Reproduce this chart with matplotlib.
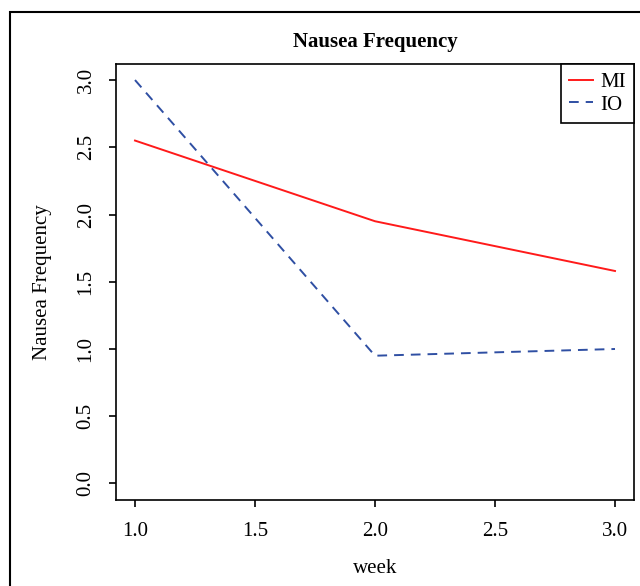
import matplotlib
matplotlib.use("Agg")
import matplotlib.pyplot as plt
from matplotlib.patches import Rectangle

plt.rcParams['font.family'] = ['Liberation Serif', 'DejaVu Serif']

week = [1, 2, 3]
mi = [2.55, 1.95, 1.58]
io = [3.0, 0.95, 1.0]
xticks = [1.0, 1.5, 2.0, 2.5, 3.0]
yticks = [0.0, 0.5, 1.0, 1.5, 2.0, 2.5, 3.0]

fig = plt.figure(figsize=(6.4, 5.86), dpi=100)
ax = fig.add_axes([115.8 / 640, 1 - 499.6 / 586, 518.4 / 640, 435.7 / 586])

ax.plot(week, mi, color='#ff1a1a', lw=1.4, label='MI')
ax.plot(week, io, color='#2f4fa3', lw=1.4, dashes=(5, 3.6), label='IO')

ax.set_xlim(0.92, 3.08)
ax.set_ylim(-0.12, 3.12)
ax.set_xticks(xticks)
ax.set_xticklabels(['%.1f' % v for v in xticks])
ax.set_yticks(yticks)
ax.set_yticklabels(['%.1f' % v for v in yticks], rotation=90, va='center')
ax.tick_params(direction='out', length=5, width=1.2, labelsize=15, pad=11)
ax.tick_params(axis='y', pad=9.5)

for s in ax.spines.values():
    s.set_linewidth(1.2)

ax.set_title('Nausea Frequency', fontsize=15, fontweight='bold', pad=12)
ax.set_xlabel('week', fontsize=15, labelpad=13)
ax.set_ylabel('Nausea Frequency', fontsize=15, labelpad=18)

leg = ax.legend(loc='upper right', borderaxespad=0, fancybox=False,
                edgecolor='black', framealpha=1, fontsize=15,
                handlelength=1.15, handletextpad=0.35, labelspacing=0.15,
                borderpad=0.4)
leg.get_frame().set_linewidth(1.2)

# outer border of the device region
fig.add_artist(Rectangle((10 / 640, -0.1), 1.2, 1 - 12 / 586 + 0.1,
                         transform=fig.transFigure, fill=False,
                         lw=1.5, edgecolor='black'))

fig.savefig('out.png', dpi=100)
